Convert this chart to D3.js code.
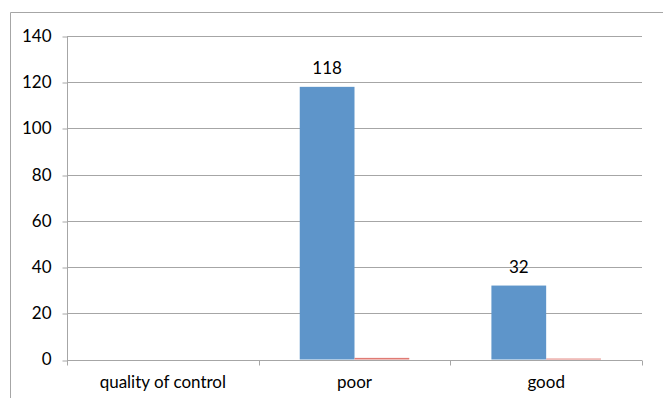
<!DOCTYPE html>
<html>
<head>
<meta charset="utf-8">
<script src="https://cdn.jsdelivr.net/npm/d3@7"></script>
<style>
  html, body { margin: 0; padding: 0; background: #fff; }
  svg { display: block; }
  text { font-family: Lato, "Open Sans", sans-serif; font-size: 17px; fill: #000; }
</style>
</head>
<body>
<script>
// Categories and series values
const categories = ["quality of control", "poor", "good"];
const seriesCount = [null, 118, 32];
const seriesOther = [null, 0.7, 0.4];
const yTicks = [0, 20, 40, 60, 80, 100, 120, 140];

const W = 663, H = 398;
const FONT = "Lato, 'Open Sans', sans-serif";
const FS = 16.5;
const margin = { left: 67, right: 21, top: 36, bottom: 38 };

const svg = d3.select("body").append("svg").attr("width", W).attr("height", H);

// Outer chart frame
svg.append("path")
  .attr("d", `M10.5,${H + 2} V12.5 H${W + 2}`)
  .attr("fill", "none").attr("stroke", "#a6a6a6").attr("stroke-width", 1);

const x = d3.scaleBand().domain(categories)
  .range([margin.left, W - margin.right]).paddingInner(0).paddingOuter(0);
const y = d3.scaleLinear().domain([0, 140]).range([H - margin.bottom - 0.5, margin.top]);

// Bars occupy 2 of 3.5 units in each band (gap width 150%)
const unit = x.bandwidth() / 3.5;
const sub = d3.scaleBand().domain(["count", "other"])
  .range([unit * 0.75, unit * 2.75]).padding(0);

// Horizontal gridlines
svg.append("g").selectAll("line").data(yTicks).join("line")
  .attr("x1", margin.left).attr("x2", W - margin.right)
  .attr("y1", d => Math.round(y(d)) + 0.5).attr("y2", d => Math.round(y(d)) + 0.5)
  .attr("stroke", "#a6a6a6").attr("stroke-width", 1);

// Y axis
const yAxis = d3.axisLeft(y).tickValues(yTicks).tickSize(5).tickPadding(11);
const gy = svg.append("g").attr("transform", `translate(${margin.left + 0.5},0)`).call(yAxis);
gy.select(".domain").attr("stroke", "#a6a6a6").attr("d", `M0,${y(140)}V${y(0) + 2}`);
gy.selectAll(".tick line").attr("stroke", "#a6a6a6")
  .attr("transform", d => `translate(0,${Math.round(y(d)) + 0.5 - y(d)})`);
gy.selectAll(".tick text").attr("font-size", FS).attr("font-family", FONT).attr("fill", "#000");

// Bars
const rows = categories.map((c, i) => ({ c, count: seriesCount[i], other: seriesOther[i] }));
const g = svg.append("g");
g.selectAll("rect.count").data(rows.filter(r => r.count != null)).join("rect")
  .attr("class", "count")
  .attr("x", d => x(d.c) + sub("count"))
  .attr("width", sub.bandwidth())
  .attr("y", d => y(d.count))
  .attr("height", d => y(0) - y(d.count))
  .attr("fill", "#5e95ca");
g.selectAll("rect.other").data(rows.filter(r => r.other != null)).join("rect")
  .attr("class", "other")
  .attr("x", d => x(d.c) + sub("other"))
  .attr("width", sub.bandwidth())
  .attr("y", d => y(d.other))
  .attr("height", d => y(0) - y(d.other))
  .attr("fill", "#e07b74");

// Value labels
g.selectAll("text.val").data(rows.filter(r => r.count != null)).join("text")
  .attr("class", "val")
  .attr("x", d => x(d.c) + sub("count") + sub.bandwidth() / 2)
  .attr("y", d => y(d.count) - 13)
  .attr("text-anchor", "middle")
  .attr("font-size", FS)
  .text(d => d.count);

// X axis
const xAxis = d3.axisBottom(x).tickSize(0).tickPadding(15);
const gx = svg.append("g").attr("transform", `translate(0,${Math.round(y(0)) + 0.5})`).call(xAxis);
gx.select(".domain").attr("stroke", "#a6a6a6").attr("d", `M${margin.left},0H${W - margin.right}`);
gx.selectAll(".tick text").attr("font-size", FS).attr("font-family", FONT).attr("fill", "#000");
// Category separator ticks
const bounds = categories.map(c => x(c)).concat([x(categories[categories.length - 1]) + x.bandwidth()]);
gx.append("g").selectAll("line").data(bounds).join("line")
  .attr("x1", d => Math.round(d) + 0.5).attr("x2", d => Math.round(d) + 0.5)
  .attr("y1", 0).attr("y2", 5).attr("stroke", "#a6a6a6");
</script>
</body>
</html>
